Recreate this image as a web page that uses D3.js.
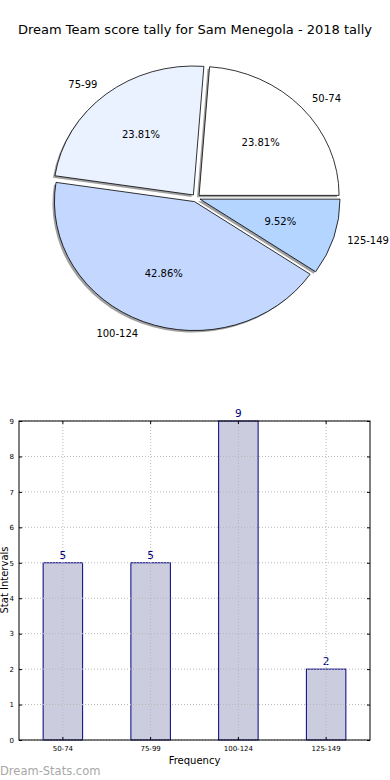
<!DOCTYPE html>
<html><head><meta charset="utf-8">
<script src="https://cdn.jsdelivr.net/npm/d3@7"></script>
<style>body{margin:0;background:#fff;}svg{display:block;font-family:"DejaVu Sans",sans-serif;}</style>
</head><body>
<svg id="c" width="390" height="780"></svg>
<script>
const title = "Dream Team score tally for Sam Menegola - 2018 tally";
const categories = ["50-74", "75-99", "100-124", "125-149"];
const counts = [5, 5, 9, 2];
const pieColors = ["#ffffff", "#eaf1ff", "#c4d8ff", "#b3d5ff"];
const yTicks = [0,1,2,3,4,5,6,7,8,9];

const svg = d3.select("#c");
svg.append("text").attr("x", 195).attr("y", 34).attr("text-anchor", "middle")
  .attr("font-size", 13).attr("fill", "#000").text(title);

// ---- Pie ----
const cx = 196, cy = 198, rx = 140, ry = 129, explode = 0.03;
const total = d3.sum(counts);
const pie = d3.pie().sort(null).startAngle(Math.PI/2).endAngle(Math.PI/2 - 2*Math.PI);
const arcs = pie(counts);
const arc = d3.arc().innerRadius(0).outerRadius(1);
const pg = svg.append("g");
arcs.forEach((a, i) => {
  const m = (a.startAngle + a.endAngle)/2;
  const ux = Math.sin(m), uy = -Math.cos(m);
  const ox = cx + ux*explode*rx, oy = cy + uy*explode*ry;
  pg.append("path").attr("d", arc(a))
    .attr("transform", `translate(${ox-2},${oy+2}) scale(${rx},${ry})`)
    .attr("fill", "#888").attr("fill-opacity", 0.8);
});
arcs.forEach((a, i) => {
  const m = (a.startAngle + a.endAngle)/2;
  const ux = Math.sin(m), uy = -Math.cos(m);
  const ox = cx + ux*explode*rx, oy = cy + uy*explode*ry;
  pg.append("path").attr("d", arc(a))
    .attr("transform", `translate(${ox},${oy}) scale(${rx},${ry})`)
    .attr("fill", pieColors[i]).attr("stroke", "#000").attr("stroke-width", 0.8)
    .attr("vector-effect", "non-scaling-stroke");
  const lx = ox + ux*1.1*rx, ly = oy + uy*1.1*ry;
  pg.append("text").attr("x", lx).attr("y", ly).attr("dy", "0.35em")
    .attr("text-anchor", ux > 0 ? "start" : "end")
    .attr("font-size", 10).text(categories[i]);
  const px = ox + ux*0.6*rx, py = oy + uy*0.6*ry;
  pg.append("text").attr("x", px).attr("y", py).attr("dy", "0.35em")
    .attr("text-anchor", "middle").attr("font-size", 10)
    .text((counts[i]/total*100).toFixed(2) + "%");
});

// ---- Bar chart ----
const L = 19, R = 370, T = 421, B = 740;
const x = d3.scaleBand().domain(categories).range([L, R]).paddingInner(0).paddingOuter(0);
const y = d3.scaleLinear().domain([0, 9]).range([B, T]);
const bg = svg.append("g");
const bw = x.bandwidth()*0.45;
categories.forEach((c, i) => {
  const xc = x(c) + x.bandwidth()/2;
  bg.append("rect").attr("x", xc - bw/2).attr("y", y(counts[i]))
    .attr("width", bw).attr("height", y(0) - y(counts[i]))
    .attr("fill", "#ccccdf").attr("stroke", "#000080").attr("stroke-width", 1);
  bg.append("text").attr("x", xc).attr("y", y(counts[i]) - 4).attr("text-anchor", "middle")
    .attr("font-size", 10.5).attr("fill", "#000080").text(counts[i]);
});
const grid = bg.append("g").attr("stroke", "#b8b8b8").attr("stroke-width", 1).attr("stroke-dasharray", "1,2");
yTicks.forEach(t => grid.append("line").attr("x1", L).attr("x2", R).attr("y1", y(t)).attr("y2", y(t)));
categories.forEach(c => {
  const xc = x(c) + x.bandwidth()/2;
  grid.append("line").attr("x1", xc).attr("x2", xc).attr("y1", T).attr("y2", B);
});
const yAxis = d3.axisLeft(y).tickValues(yTicks).tickSize(-3).tickPadding(5);
const ya = bg.append("g").attr("transform", `translate(${L},0)`).call(yAxis);
ya.select(".domain").remove();
ya.selectAll("text").attr("font-size", 7).attr("font-family", "DejaVu Sans");
const yr = bg.append("g").attr("transform", `translate(${R},0)`).call(d3.axisRight(y).tickValues(yTicks).tickSize(-3).tickFormat(""));
yr.select(".domain").remove();
const xAxis = d3.axisBottom(x).tickSize(-3).tickPadding(6);
const xa = bg.append("g").attr("transform", `translate(0,${B})`).call(xAxis);
xa.select(".domain").remove();
xa.selectAll("text").attr("font-size", 7).attr("font-family", "DejaVu Sans");
const xt = bg.append("g").attr("transform", `translate(0,${T})`).call(d3.axisTop(x).tickSize(-3).tickFormat(""));
xt.select(".domain").remove();
bg.append("rect").attr("x", L).attr("y", T).attr("width", R-L).attr("height", B-T)
  .attr("fill", "none").attr("stroke", "#000").attr("stroke-width", 1);
svg.append("text").attr("x", (L+R)/2).attr("y", 764).attr("text-anchor", "middle")
  .attr("font-size", 10).text("Frequency");
svg.append("text").attr("transform", "translate(8,580) rotate(-90)").attr("text-anchor", "middle")
  .attr("font-size", 10).text("Stat Intervals");
svg.append("text").attr("x", 0).attr("y", 775).attr("font-size", 11.5)
  .attr("fill", "#a8a8a8").text("Dream-Stats.com");
</script>
</body></html>
